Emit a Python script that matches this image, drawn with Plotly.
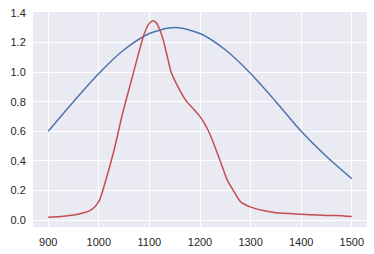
import plotly.graph_objects as go

blue_x = [900, 950, 1000, 1050, 1100, 1150, 1200, 1250, 1300, 1350, 1400, 1450, 1500]
blue_y = [0.60, 0.80, 0.99, 1.15, 1.26, 1.30, 1.26, 1.15, 0.99, 0.80, 0.60, 0.43, 0.28]

red_x = [900, 925, 950, 965, 985, 1000, 1013, 1030, 1047, 1065, 1089, 1098, 1106, 1113, 1120,
         1127, 1135, 1143, 1158, 1174, 1190, 1202, 1217, 1240, 1254, 1266, 1280, 1299, 1325,
         1350, 1400, 1450, 1470, 1500]
red_y = [0.02, 0.025, 0.035, 0.045, 0.07, 0.125, 0.26, 0.47, 0.72, 0.95, 1.25, 1.32, 1.345, 1.335, 1.29,
         1.22, 1.11, 1.0, 0.89, 0.80, 0.74, 0.69, 0.60, 0.40, 0.27, 0.20, 0.125, 0.09, 0.065,
         0.05, 0.04, 0.032, 0.032, 0.025]

x_ticks = [900, 1000, 1100, 1200, 1300, 1400, 1500]
y_ticks = [0.0, 0.2, 0.4, 0.6, 0.8, 1.0, 1.2, 1.4]

fig = go.Figure()
fig.add_trace(go.Scatter(x=blue_x, y=blue_y, mode="lines",
                         line=dict(color="#4C72B0", width=1.5, shape="spline", smoothing=0.8)))
fig.add_trace(go.Scatter(x=red_x, y=red_y, mode="lines",
                         line=dict(color="#C44E52", width=1.5, shape="spline", smoothing=0.7)))

font = dict(family="Liberation Sans, Arial, sans-serif", size=11, color="#262626")
fig.update_layout(
    width=374, height=254,
    margin=dict(l=33, r=7, t=12, b=27),
    paper_bgcolor="white", plot_bgcolor="#EAEAF2",
    showlegend=False, font=font,
)
fig.update_xaxes(range=[870, 1530], tickvals=x_ticks, ticktext=[str(v) for v in x_ticks],
                 showgrid=True, gridcolor="white", gridwidth=1, zeroline=False,
                 showline=False, ticks="outside", ticklen=5, tickcolor="rgba(0,0,0,0)",
                 tickfont=font)
fig.update_yaxes(range=[-0.046, 1.405], tickvals=y_ticks, ticktext=[f"{v:.1f}" for v in y_ticks],
                 showgrid=True, gridcolor="white", gridwidth=1, zeroline=False,
                 showline=False, ticks="outside", ticklen=4, tickcolor="rgba(0,0,0,0)",
                 tickfont=font)

fig.write_html("out.html")
